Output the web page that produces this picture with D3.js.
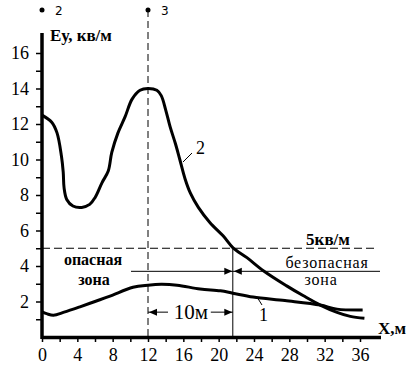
<!DOCTYPE html>
<html>
<head>
<meta charset="utf-8">
<script src="https://cdn.jsdelivr.net/npm/d3@7"></script>
<style>
  body { margin: 0; background: #fff; font-family: 'Times New Roman'; }
  #grafico { position: relative; width: 410px; height: 366px; }
  svg { display: block; }
  #ytitle { position: absolute; left: 50px; top: 26px; font-size: 17px; font-weight: bold; font-family: 'Times New Roman'; line-height: 20px; white-space: nowrap; }
</style>
</head>
<body>
<div id="grafico"><div id="ytitle">Eу, кв/м</div></div>
<script>
var curve1X = [0, 0.6, 1.3, 2.5, 4.3, 6, 7.7, 10.3, 12, 13.5, 15.3, 17.9, 20.2, 21.6, 23.9, 27.5, 31.5, 33.4, 36.3];
var curve1Y = [1.42, 1.3, 1.23, 1.4, 1.7, 2.0, 2.3, 2.8, 2.92, 2.97, 2.92, 2.7, 2.6, 2.47, 2.25, 2.05, 1.8, 1.57, 1.52];

var curve2X = [0, 1.1, 1.7, 2.2, 2.4, 2.5, 2.8, 3.5, 4.5, 5.4, 6.0, 6.8, 7.5, 7.9, 8.6, 9.4, 10.2, 11.1, 12, 13, 13.5, 14.0, 14.5, 15.1, 15.6, 16.2, 16.8, 17.7, 19.0, 20.5, 21.6, 23.2, 25.1, 27.7, 29.6, 31.5, 33.4, 34.9, 36.5];
var curve2Y = [12.5, 12.1, 11.5, 10.2, 9.3, 8.4, 7.75, 7.38, 7.3, 7.47, 7.85, 8.7, 9.35, 10.4, 11.5, 12.4, 13.4, 13.9, 14.0, 13.9, 13.6, 12.8, 11.85, 10.9, 10.0, 8.9, 8.1, 7.3, 6.45, 5.7, 5.04, 4.47, 3.72, 2.88, 2.32, 1.8, 1.39, 1.16, 1.05];

var xTicks = [0, 2, 4, 6, 8, 10, 12, 14, 16, 18, 20, 22, 24, 26, 28, 30, 32, 34, 36];
var yTicks = [1, 2, 3, 4, 5, 6, 7, 8, 9, 10, 11, 12, 13, 14, 15, 16];

var limitValue = 5;      // 5 кв/м
var pointX = 12;         // точка 3
var boundaryX = 21.6;    // граница зоны
var zoneLineY = 3.7;
var dimLineY = 1.4;

var serif = "'Times New Roman'";

var width = 410,
    height = 366;

var svg = d3.select("#grafico").append("svg")
    .attr("width", width)
    .attr("height", height);

var x = d3.scaleLinear().domain([0, 36]).range([42, 360]);
var y = d3.scaleLinear().domain([0, 16]).range([337, 53]);

// оси
var xAxis = svg.append("g")
    .attr("transform", "translate(0,337)")
    .call(d3.axisBottom(x)
        .tickValues(xTicks)
        .tickSize(5)
        .tickPadding(6)
        .tickFormat(function(d) { return d % 4 === 0 ? d : ""; }));

var yAxis = svg.append("g")
    .attr("transform", "translate(42,0)")
    .call(d3.axisLeft(y)
        .tickValues(yTicks)
        .tickSize(6)
        .tickPadding(7)
        .tickFormat(function(d) { return d % 2 === 0 ? d : ""; }));

[xAxis, yAxis].forEach(function(g) {
    g.attr("font-family", null);
    g.select(".domain").remove();
    g.selectAll(".tick line").attr("stroke", "#000").attr("stroke-width", 1.5);
    g.selectAll(".tick text")
        .style("font-family", serif)
        .attr("font-size", 18)
        .attr("fill", "#000");
});

svg.append("line")
    .attr("x1", x(0)).attr("x2", 381)
    .attr("y1", y(0) + 0.5).attr("y2", y(0) + 0.5)
    .attr("stroke", "#000").attr("stroke-width", 3.5);

svg.append("line")
    .attr("x1", x(0)).attr("x2", x(0))
    .attr("y1", 33).attr("y2", y(0) + 2)
    .attr("stroke", "#000").attr("stroke-width", 3.5);

// штриховые линии
svg.append("line")
    .attr("x1", x(0)).attr("x2", 378)
    .attr("y1", y(limitValue)).attr("y2", y(limitValue))
    .attr("stroke", "#000").attr("stroke-width", 1)
    .attr("stroke-dasharray", "8,4");

svg.append("line")
    .attr("x1", x(pointX)).attr("x2", x(pointX))
    .attr("y1", 10).attr("y2", y(0))
    .attr("stroke", "#000").attr("stroke-width", 1)
    .attr("stroke-dasharray", "7,4");

// точки 2 и 3
var marks = [{v: 0, t: "2"}, {v: pointX, t: "3"}];
svg.selectAll(".mark").data(marks).enter().append("circle")
    .attr("class", "mark")
    .attr("cx", function(d) { return x(d.v); })
    .attr("cy", 10)
    .attr("r", 2.5)
    .attr("fill", "#000");
svg.selectAll(".markText").data(marks).enter().append("text")
    .attr("class", "markText")
    .attr("x", function(d) { return x(d.v) + 13; })
    .attr("y", 15)
    .attr("font-size", 12)
    .style("font-family", "'DejaVu Sans'")
    .text(function(d) { return d.t; });

// граница зон
svg.append("line")
    .attr("x1", x(boundaryX)).attr("x2", x(boundaryX))
    .attr("y1", y(limitValue)).attr("y2", y(0))
    .attr("stroke", "#000").attr("stroke-width", 1);

svg.append("line")
    .attr("x1", 131).attr("x2", 380)
    .attr("y1", y(zoneLineY)).attr("y2", y(zoneLineY))
    .attr("stroke", "#000").attr("stroke-width", 1);

function arrow(tipX, tipY, dir) {
    var L = 8, h = 3.5;
    return "M" + tipX + "," + tipY +
        "L" + (tipX - dir * L) + "," + (tipY - h) +
        "L" + (tipX - dir * L) + "," + (tipY + h) + "Z";
}

svg.append("path").attr("d", arrow(x(boundaryX) - 0.5, y(zoneLineY), 1)).attr("fill", "#000");
svg.append("path").attr("d", arrow(x(boundaryX) + 1, y(zoneLineY), -1)).attr("fill", "#000");

// размер 10м
svg.append("line")
    .attr("x1", x(pointX)).attr("x2", x(pointX) + 20)
    .attr("y1", y(dimLineY)).attr("y2", y(dimLineY))
    .attr("stroke", "#000").attr("stroke-width", 1);
svg.append("line")
    .attr("x1", x(boundaryX) - 22).attr("x2", x(boundaryX))
    .attr("y1", y(dimLineY)).attr("y2", y(dimLineY))
    .attr("stroke", "#000").attr("stroke-width", 1);
svg.append("path").attr("d", arrow(x(pointX) + 1, y(dimLineY), -1)).attr("fill", "#000");
svg.append("path").attr("d", arrow(x(boundaryX) - 0.5, y(dimLineY), 1)).attr("fill", "#000");

// кривые
var line = d3.line()
    .x(function(d) { return x(d[0]); })
    .y(function(d) { return y(d[1]); })
    .curve(d3.curveCatmullRom.alpha(0.5));

var data1 = d3.zip(curve1X, curve1Y);
var data2 = d3.zip(curve2X, curve2Y);

svg.append("path")
    .datum(data1)
    .attr("d", line)
    .attr("fill", "none")
    .attr("stroke", "#000")
    .attr("stroke-width", 3);

svg.append("path")
    .datum(data2)
    .attr("d", line)
    .attr("fill", "none")
    .attr("stroke", "#000")
    .attr("stroke-width", 3);

// выноски
svg.append("line")
    .attr("x1", 183).attr("y1", 162).attr("x2", 192).attr("y2", 153)
    .attr("stroke", "#000").attr("stroke-width", 1);
svg.append("line")
    .attr("x1", 257).attr("y1", 297).attr("x2", 262).attr("y2", 305)
    .attr("stroke", "#000").attr("stroke-width", 1);

// подписи
var labels = [
    {t: "10м", x: (x(pointX) + x(boundaryX)) / 2 + 0.5, y: y(dimLineY) + 7, s: 21, a: "middle"},
    {t: "2", x: 196, y: 154, s: 18},
    {t: "1", x: 259, y: 321, s: 18},
    {t: "X,м", x: 406, y: 334, s: 17, b: true, a: "end"},
    {t: "5кв/м", x: 328, y: 245, s: 17, b: true, a: "middle"},
    {t: "опасная", x: 93, y: 265, s: 16, b: true, a: "middle"},
    {t: "зона", x: 94, y: 285, s: 16, b: true, a: "middle"},
    {t: "безопасная", x: 327, y: 268, s: 16, a: "middle", ls: 0.8},
    {t: "зона", x: 321, y: 285, s: 16, a: "middle", ls: 0.8}
];

svg.selectAll(".lbl").data(labels).enter().append("text")
    .attr("class", "lbl")
    .attr("x", function(d) { return d.x; })
    .attr("y", function(d) { return d.y; })
    .attr("font-size", function(d) { return d.s; })
    .attr("font-weight", function(d) { return d.b ? "bold" : "normal"; })
    .attr("text-anchor", function(d) { return d.a || "start"; })
    .attr("letter-spacing", function(d) { return d.ls || 0; })
    .attr("fill", "#000")
    .style("font-family", serif)
    .text(function(d) { return d.t; });

d3.select("svg").style("position", "absolute").style("left", 0).style("top", 0);
</script>
</body>
</html>
